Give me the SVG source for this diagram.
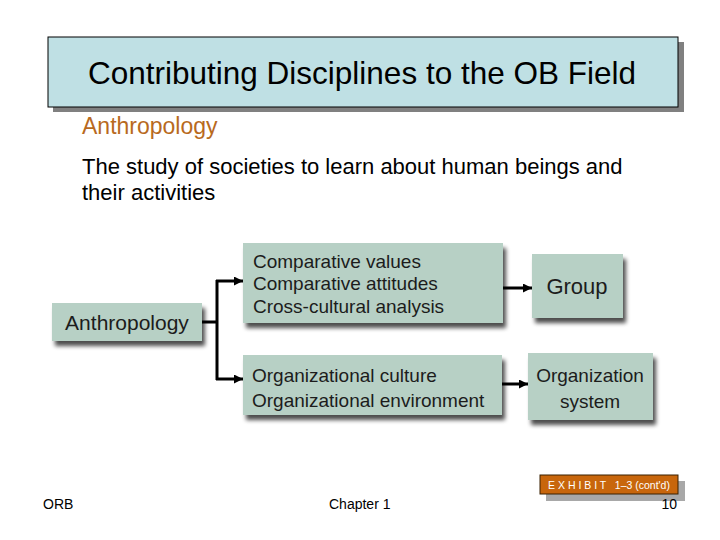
<svg xmlns="http://www.w3.org/2000/svg" width="720" height="540" viewBox="0 0 720 540">
<style>
.t{font-family:"Liberation Sans",Arial,sans-serif}
.box{fill:#B7D0C5;filter:url(#sh)}
.bt{font-family:"Liberation Sans",Arial,sans-serif;font-size:19px;fill:#1c1c1c}
.bt.big{font-size:21px}
.bt.grp{font-size:22px}
.conn{stroke:#000;stroke-width:3;fill:none}
.pre{white-space:pre}
</style>
<defs>
<filter id="sh" x="-10%" y="-20%" width="125%" height="150%">
<feGaussianBlur in="SourceAlpha" stdDeviation="2"/>
<feOffset dx="3" dy="5" result="b"/>
<feComponentTransfer><feFuncA type="linear" slope="0.7"/></feComponentTransfer>
<feMerge><feMergeNode/><feMergeNode in="SourceGraphic"/></feMerge>
</filter>
<marker id="ah" viewBox="0 0 10 10" refX="10" refY="5" markerWidth="4.5" markerHeight="3" orient="auto" markerUnits="strokeWidth">
<path d="M0,0 L10,5 L0,10 z" fill="#000"/>
</marker>
</defs>
<rect width="720" height="540" fill="#fff"/>
<g id="title">
<rect x="53" y="42" width="631" height="70" fill="#808080"/>
<rect x="48" y="37" width="630" height="70" fill="#BFE0E4" stroke="#000" stroke-width="1"/>
<text class="t" x="362" y="84" font-size="31.5" text-anchor="middle" fill="#000">Contributing Disciplines to the OB Field</text>
</g>
<text class="t" x="82" y="134" font-size="23" fill="#B86A1E">Anthropology</text>
<text class="t" x="82" y="174" font-size="22" fill="#000">The study of societies to learn about human beings and</text>
<text class="t" x="82" y="200" font-size="22" fill="#000">their activities</text>
<g id="connectors">
<path class="conn" d="M202,322 H217 M217,280 V380"/>
<path class="conn" d="M216,281 H243" marker-end="url(#ah)"/>
<path class="conn" d="M216,379 H243" marker-end="url(#ah)"/>
<path class="conn" d="M503,288 H532" marker-end="url(#ah)"/>
<path class="conn" d="M502,384 H528" marker-end="url(#ah)"/>
</g>
<g id="anthropology">
<rect class="box" x="52" y="303" width="150" height="38"/>
<text class="bt big" x="127" y="330" text-anchor="middle">Anthropology</text>
</g>
<g id="comparative">
<rect class="box" x="243" y="243" width="260" height="80"/>
<text class="bt" x="253" y="268">Comparative values</text>
<text class="bt" x="253" y="290">Comparative attitudes</text>
<text class="bt" x="253" y="313">Cross-cultural analysis</text>
</g>
<g id="orgculture">
<rect class="box" x="243" y="355" width="259" height="60"/>
<text class="bt" x="252" y="382">Organizational culture</text>
<text class="bt" x="252" y="407">Organizational environment</text>
</g>
<g id="group">
<rect class="box" x="532" y="254" width="91" height="64"/>
<text class="bt grp" x="577" y="294" text-anchor="middle">Group</text>
</g>
<g id="orgsystem">
<rect class="box" x="528" y="353" width="125" height="67"/>
<text class="bt" x="590" y="382" text-anchor="middle">Organization</text>
<text class="bt" x="590" y="408" text-anchor="middle">system</text>
</g>
<g id="exhibit">
<rect x="546" y="481" width="139" height="20" fill="#A8A8A8"/>
<rect x="540" y="475" width="138" height="19" fill="#C8660C" stroke="#3a2000" stroke-width="1"/>
<text class="t pre" x="609" y="488.5" font-size="10.5" fill="#fff" text-anchor="middle">E X H I B I T   1–3 (cont'd)</text>
</g>
<text class="t" x="43" y="509" font-size="14" fill="#000">ORB</text>
<text class="t" x="329" y="509" font-size="14" fill="#000">Chapter 1</text>
<text class="t" x="677" y="509" font-size="14" fill="#000" text-anchor="end">10</text>
</svg>
